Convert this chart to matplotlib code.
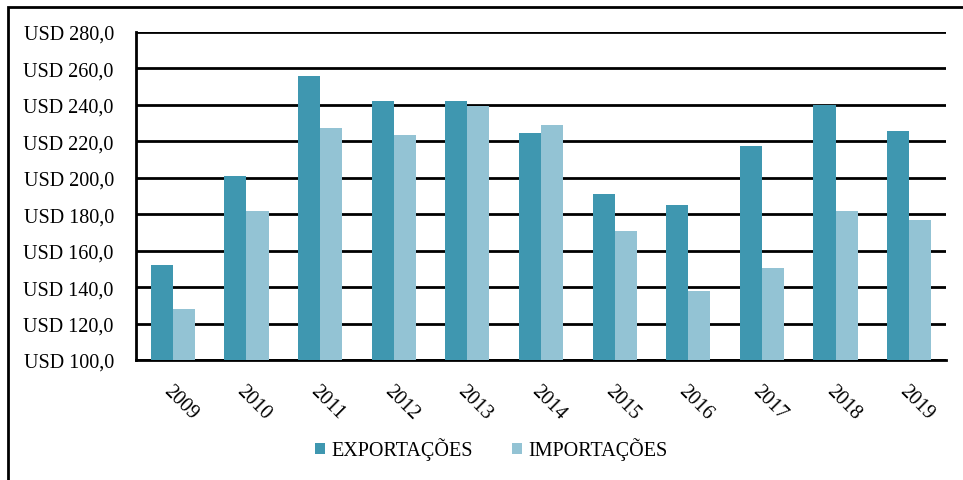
import numpy as np
import matplotlib.pyplot as plt
from matplotlib.patches import Rectangle

anos = ['2009', '2010', '2011', '2012', '2013', '2014', '2015', '2016', '2017', '2018', '2019']
exportacoes = [152.0, 201.0, 255.8, 242.0, 242.0, 224.6, 191.1, 185.2, 217.5, 240.0, 225.5]
importacoes = [128.0, 182.0, 227.5, 223.5, 239.5, 229.2, 171.0, 137.6, 150.7, 181.5, 177.0]
yticks = [100, 120, 140, 160, 180, 200, 220, 240, 260, 280]

cor_exp = '#3f97b0'
cor_imp = '#93c3d4'

plt.rcParams['font.family'] = ['Liberation Serif', 'DejaVu Serif']
fs = 14.5

fig = plt.figure(figsize=(9.63, 4.81), dpi=100)
ax = fig.add_axes([136 / 963, 1 - 361 / 481, 810 / 963, 328 / 481])

x = np.arange(len(anos))
w = 0.3
ax.bar(x - w / 2, np.array(exportacoes) - 100, w, bottom=100, color=cor_exp, zorder=3, label='EXPORTAÇÕES')
ax.bar(x + w / 2, np.array(importacoes) - 100, w, bottom=100, color=cor_imp, zorder=3, label='IMPORTAÇÕES')

ax.set_ylim(100, 280)
ax.set_xlim(-0.5, len(anos) - 0.5)
ax.set_yticks(yticks)
ax.set_yticklabels(['USD %d,0' % v for v in yticks], fontsize=fs)
ax.set_xticks(x)
ax.set_xticklabels(anos, fontsize=fs, rotation=-45, ha='left', va='top', rotation_mode='anchor')
ax.tick_params(axis='y', length=0, pad=16)
ax.tick_params(axis='x', length=0, pad=15)

ax.yaxis.grid(True, color='black', linewidth=2, zorder=0)
for s in ['top', 'right']:
    ax.spines[s].set_visible(False)
ax.spines['left'].set_linewidth(2)
ax.spines['bottom'].set_linewidth(2)

# moldura do grafico (so aparecem a esquerda e em cima)
fig.patches.append(Rectangle((8 / 963, -0.1), 1.2, 1 - 8 / 481 + 0.1, transform=fig.transFigure,
                             fill=False, edgecolor='black', linewidth=2))

fig.legend(loc='center', bbox_to_anchor=(0.51, 1 - 450 / 481), ncol=2, frameon=False, fontsize=fs,
           handlelength=0.5, handleheight=0.5, columnspacing=1.95, handletextpad=0.3)

fig.savefig('out.png', dpi=100)
